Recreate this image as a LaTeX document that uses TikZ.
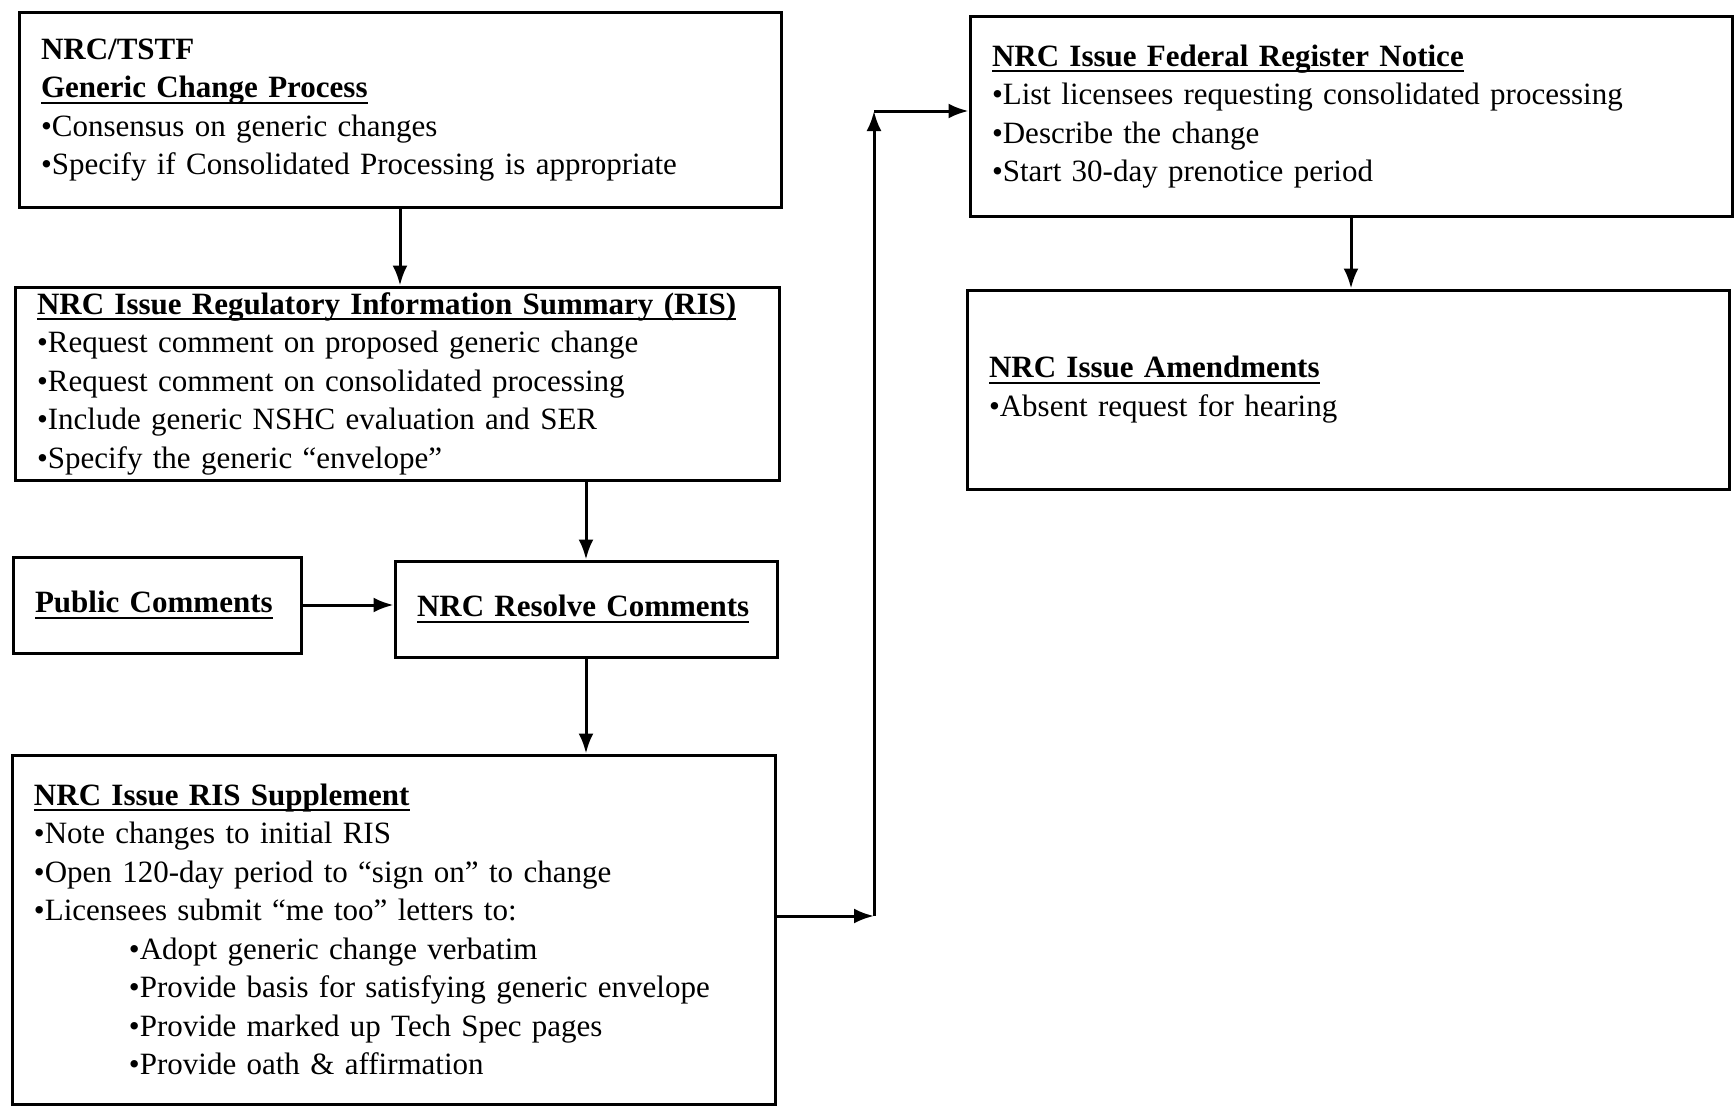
\documentclass[tikz,border=0pt]{standalone}
\usepackage{fontspec}
\setmainfont{Liberation Serif}
\usetikzlibrary{arrows.meta}
\newlength{\titlewd}
\newcommand{\boxtitle}[1]{\settowidth{\titlewd}{\textbf{#1}}\textbf{#1}\hspace*{-\titlewd}\rule[-6pt]{\titlewd}{2pt}}
\newcommand{\subbullet}{\hspace*{95pt}\textbullet}
\tikzset{
	procbox/.append style={
		draw,
		line width=3pt,
		align=left,
		inner xsep=22pt,
		inner ysep=0pt,
		font={\fontsize{31}{38.5}\selectfont},
	},
	link/.append style={
		line width=3pt,
		-{Latex[length=20pt,width=15pt]},
	},
}

\begin{document}
\begin{tikzpicture}[x=1pt,y=-1pt]
\useasboundingbox (0,0) rectangle (1735,1108);

% left column
\node(tstf)[procbox, text width=718pt, minimum height=194pt] at (400,110){\textbf{NRC/TSTF}\\
	\boxtitle{Generic Change Process}\\
	\textbullet Consensus on generic changes\\
	\textbullet Specify if Consolidated Processing is appropriate};
\node(ris)[procbox, text width=720pt, minimum height=193pt] at (397,383.5){\boxtitle{NRC Issue Regulatory Information Summary (RIS)}\\
	\textbullet Request comment on proposed generic change\\
	\textbullet Request comment on consolidated processing\\
	\textbullet Include generic NSHC evaluation and SER\\
	\textbullet Specify the generic “envelope”};
\node(public)[procbox, text width=244pt, minimum height=96pt] at (157,605){\boxtitle{Public Comments}};
\node(resolve)[procbox, text width=338pt, minimum height=96pt] at (586,609){\boxtitle{NRC Resolve Comments}};
\node(supp)[procbox, text width=719pt, minimum height=349pt] at (393.5,929.5){\boxtitle{NRC Issue RIS Supplement}\\
	\textbullet Note changes to initial RIS\\
	\textbullet Open 120-day period to “sign on” to change\\
	\textbullet Licensees submit “me too” letters to:\\
	\subbullet Adopt generic change verbatim\\
	\subbullet Provide basis for satisfying generic envelope\\
	\subbullet Provide marked up Tech Spec pages\\
	\subbullet Provide oath \& affirmation};

% right column
\node(fed)[procbox, text width=718pt, minimum height=199pt] at (1351,116.5){\boxtitle{NRC Issue Federal Register Notice}\\
	\textbullet List licensees requesting consolidated processing\\
	\textbullet Describe the change\\
	\textbullet Start 30-day prenotice period};
\node(amend)[procbox, text width=718pt, minimum height=199pt] at (1348,389.5){\boxtitle{NRC Issue Amendments}\\
	\textbullet Absent request for hearing};

\coordinate(turn) at (874,916);
\coordinate(top) at (874,111);

\draw[link] (tstf.south) -- (tstf.south |- ris.north);
\draw[link] (resolve.north |- ris.south) -- (resolve.north);
\draw[link] (public.east) -- (public.east -| resolve.west);
\draw[link] (resolve.south) -- (resolve.south |- supp.north);
\draw[link] (supp.east |- turn) -- (turn);
\draw[link] (turn) -- (top);
\draw[link] (top) -- (top -| fed.west);
\draw[link] (fed.south) -- (fed.south |- amend.north);

\end{tikzpicture}
\end{document}
